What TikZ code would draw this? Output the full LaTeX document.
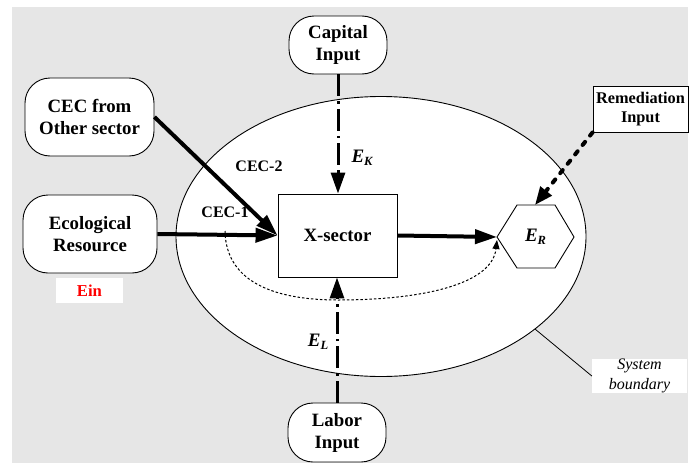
\documentclass[tikz,border=0pt]{standalone}
\usepackage{fontspec}
\setmainfont{Liberation Serif}
\usetikzlibrary{arrows.meta}
\definecolor{bggray}{RGB}{230,230,230}
\begin{document}
\begin{tikzpicture}[x=1pt,y=-1pt,
  rbox/.style={draw,fill=white,line width=0.9pt,rounded corners=25pt,align=center,inner sep=0pt,
    font=\fontsize{18.8}{22}\selectfont\bfseries},
  sbox/.style={draw,fill=white,line width=0.9pt,align=center,inner sep=0pt},
  lbl/.style={inner sep=0pt,font=\fontsize{16}{18}\selectfont\bfseries},
  elbl/.style={inner sep=0pt,font=\fontsize{19}{20}\selectfont\bfseries\itshape},
  ddarrow/.style={line width=3pt,dash pattern=on 22pt off 5pt on 2.5pt off 5pt,-{Triangle[length=21pt,width=14pt]}},
  solarrow/.style={line width=4pt,-{Triangle[length=22pt,width=14pt]}},
  dotarrow/.style={line width=1pt,dash pattern=on 2.5pt off 2pt,-{Triangle[length=9pt,width=7pt]}},
  remarrow/.style={line width=4pt,line cap=round,dash pattern=on 4pt off 8pt,-{Triangle[length=18pt,width=14pt]}}
]
\useasboundingbox (0,0) rectangle (690,471);
\fill[bggray] (12,7) rectangle (688,463);
\draw[fill=white,line width=0.9pt] (381,236.5) ellipse [x radius=205pt, y radius=140pt];

% nodes
\node[rbox,minimum width=98pt,minimum height=58pt] (cap) at (338,45) {Capital\\Input};
\node[rbox,minimum width=129pt,minimum height=78pt] (cec) at (89.5,117) {CEC from\\Other sector};
\node[rbox,minimum width=134pt,minimum height=78pt] (eco) at (90,234) {Ecological\\Resource};
\node[rbox,minimum width=98pt,minimum height=59pt] (lab) at (337,432.5) {Labor\\Input};
\node[sbox,minimum width=95pt,minimum height=46pt,font=\fontsize{16.3}{19}\selectfont\bfseries] (rem) at (640.5,109) {Remediation\\Input};
\node[sbox,minimum width=119pt,minimum height=83pt,font=\fontsize{18.8}{22}\selectfont\bfseries] (xs) at (337.5,235.5) {X-sector};

% hexagon E_R
\draw[fill=white,line width=0.9pt] (497,237) coordinate (erL) -- (517,205) -- (555,205) -- (574,237) -- (555,268) -- (517,268) -- cycle;
\coordinate (erT) at (535,205);
\coordinate (erL2) at (497,240);
\node[elbl] (er) at (535.5,237) {E\raisebox{-0.3ex}{\fontsize{12.5}{13}\selectfont R}};

% Ein
\node[fill=white,minimum width=67pt,minimum height=25pt,inner sep=0pt,text=red,
  font=\fontsize{16.7}{20}\selectfont\bfseries] (ein) at (89.5,290.5) {Ein};

% System boundary
\node[fill=white,minimum width=95pt,minimum height=34pt,inner sep=0pt,align=center,
  font=\fontsize{16}{20}\selectfont\itshape] (sb) at (639.5,376) {System\\boundary};
\coordinate (bpt) at (535,329);
\draw[line width=0.8pt] (bpt) -- (sb.west);

% arrows
\draw[ddarrow] (cap.south) -- (cap.south |- xs.north);
\draw[ddarrow] (lab.north) -- (lab.north |- xs.south);
\draw[solarrow] (cec.east) -- (xs.west);
\draw[solarrow] (eco.east) -- (xs.west);
\draw[solarrow] (xs.east) -- (erL);
\draw[remarrow] (rem.south west) -- (erT);
\coordinate (dstart) at (225,231);
\draw[dotarrow] (dstart) .. controls (226,285) and (280,300) .. (338,300)
  .. controls (420,300) and (492,285) .. (erL2);

% labels
\node[lbl] (cec2) at (259,166) {CEC-2};
\node[lbl] (cec1) at (225,212) {CEC-1};
\node[elbl] (ek) at (362,158) {E\raisebox{-0.3ex}{\fontsize{12.5}{13}\selectfont K}};
\node[elbl] (el) at (318,342) {E\raisebox{-0.3ex}{\fontsize{12.5}{13}\selectfont L}};
\end{tikzpicture}
\end{document}
